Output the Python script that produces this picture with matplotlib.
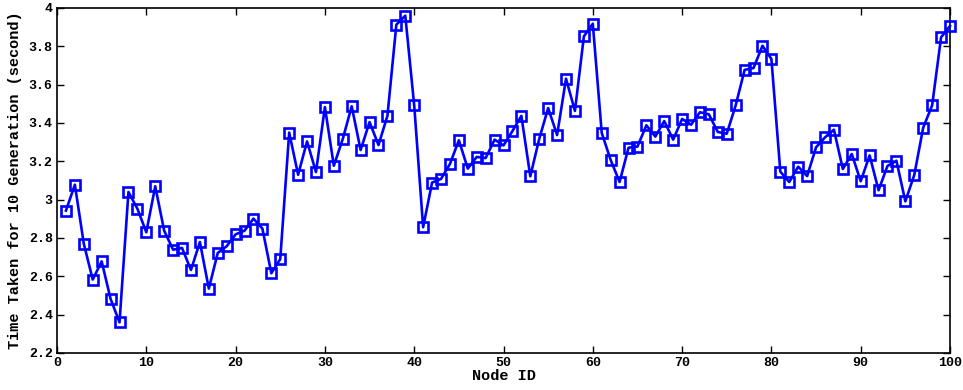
import numpy as np
import matplotlib.pyplot as plt

# Data
node_id = np.arange(1, 101)
time_taken = [
    2.943, 3.078, 2.770, 2.583, 2.678, 2.482, 2.360, 3.040, 2.953, 2.830,
    3.070, 2.838, 2.739, 2.748, 2.633, 2.779, 2.536, 2.722, 2.757, 2.819,
    2.838, 2.901, 2.849, 2.616, 2.690, 3.350, 3.130, 3.304, 3.144, 3.483,
    3.177, 3.317, 3.487, 3.259, 3.405, 3.285, 3.437, 3.913, 3.960, 3.492,
    2.856, 3.089, 3.108, 3.186, 3.310, 3.162, 3.223, 3.217, 3.313, 3.283,
    3.358, 3.437, 3.122, 3.317, 3.478, 3.337, 3.631, 3.463, 3.852, 3.918,
    3.348, 3.207, 3.092, 3.271, 3.277, 3.388, 3.329, 3.410, 3.313, 3.421,
    3.391, 3.456, 3.445, 3.353, 3.344, 3.492, 3.677, 3.687, 3.803, 3.734,
    3.146, 3.092, 3.172, 3.123, 3.273, 3.325, 3.365, 3.160, 3.238, 3.096,
    3.231, 3.049, 3.176, 3.203, 2.991, 3.129, 3.376, 3.492, 3.847, 3.906,
]
yticks = [2.2, 2.4, 2.6, 2.8, 3.0, 3.2, 3.4, 3.6, 3.8, 4.0]
ytick_labels = ['2.2', '2.4', '2.6', '2.8', '3', '3.2', '3.4', '3.6', '3.8', '4']
xticks = [0, 10, 20, 30, 40, 50, 60, 70, 80, 90, 100]

font = {'family': 'Liberation Mono', 'weight': 'bold'}

fig = plt.figure(figsize=(9.63, 3.9), dpi=100)
ax = fig.add_axes([0.0592, 0.0949, 0.9273, 0.8846])

ax.plot(node_id, time_taken, color='#0000ff', linewidth=1.9,
        marker='s', markersize=7.8, markerfacecolor='none',
        markeredgecolor='#0000ff', markeredgewidth=1.9, clip_on=False, zorder=3)

ax.set_xlim(0, 100)
ax.set_ylim(2.2, 4.0)
ax.set_xticks(xticks)
ax.set_xticklabels([str(t) for t in xticks], fontdict=font, fontsize=9.5)
ax.set_yticks(yticks)
ax.set_yticklabels(ytick_labels, fontdict=font, fontsize=9.5)
ax.tick_params(direction='in', top=True, right=True, length=5, width=1, pad=3)

ax.set_xlabel('Node ID', fontdict=font, fontsize=11, labelpad=0)
ax.set_ylabel('Time Taken for 10 Generation (second)', fontdict=font, fontsize=11, labelpad=5)

for s in ax.spines.values():
    s.set_linewidth(1.2)

fig.savefig('out.png', dpi=100)
